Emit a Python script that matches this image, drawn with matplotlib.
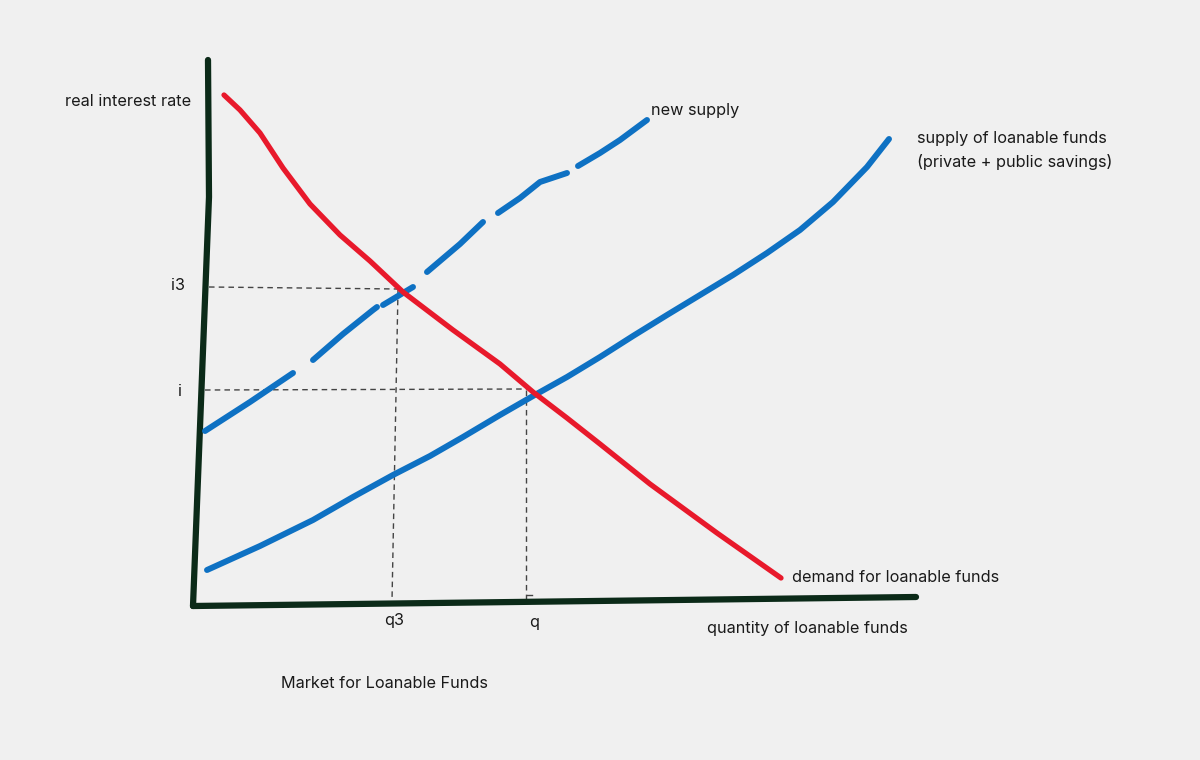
import numpy as np
import matplotlib
matplotlib.use("Agg")
import matplotlib.pyplot as plt

plt.rcParams["font.family"] = ["Inter", "DejaVu Sans"]

# Hand-drawn sketch, traced in drawing units (x right, y down)
axis_y_x = [208, 209, 193]
axis_y_y = [60, 197, 606]
axis_x_x = [193, 916]
axis_x_y = [606, 597]

demand_x = [224, 240, 260, 283, 310, 340, 370, 403, 453, 500, 533, 567,
            600, 650, 717, 781]
demand_y = [95, 110, 133, 168, 204, 235, 261, 292, 330, 364, 392, 418,
            444, 484, 533, 578]

supply_x = [207, 260, 313, 353, 393, 430, 463, 500, 533, 567, 600, 633,
            667, 700, 733, 767, 800, 833, 867, 889]
supply_y = [570, 546, 520, 497, 475, 456, 437, 415, 396, 377, 357, 336,
            315, 295, 275, 253, 230, 202, 167, 139]

# new supply drawn as broken dashes; NaN separates the pieces
new_x = [205, 250, 293, np.nan, 313, 343, 373, 377, np.nan, 383, 413, np.nan,
         427, 460, 483, np.nan, 498, 520, 540, 567, np.nan, 578, 600, 620, 647]
new_y = [431, 402, 373, np.nan, 360, 334, 310, 307, np.nan, 305, 287, np.nan,
         272, 244, 222, np.nan, 213, 198, 182, 173, np.nan, 166, 153, 140, 120]

# guide lines: (x0, y0, x1, y1)
guides = [
    (209, 287, 398, 289),   # i3
    (398, 290, 392, 601),   # q3
    (205, 390, 527, 389),   # i
    (526, 390, 526, 600),   # q
]

labels = [
    ("real interest rate", 65, 102),
    ("i3", 171, 286),
    ("i", 178, 392),
    ("q3", 384, 620),
    ("q", 529, 622),
    ("new supply", 651, 111),
    ("supply of loanable funds", 917, 139),
    ("(private + public savings)", 917, 162),
    ("demand for loanable funds", 792, 577),
    ("quantity of loanable funds", 707, 629),
    ("Market for Loanable Funds", 281, 684),
]

BG = "#f0f0f0"
RED = "#e8192b"
BLUE = "#0e71c3"
DARK = "#0b2a18"

fig = plt.figure(figsize=(12, 7.6), dpi=100, facecolor=BG)
ax = fig.add_axes([0, 0, 1, 1])
ax.set_facecolor(BG)
ax.set_xlim(0, 1200)
ax.set_ylim(760, 0)
ax.axis("off")

for x0, y0, x1, y1 in guides:
    ax.plot([x0, x1], [y0, y1], color="#444444", lw=1.0, ls=(0, (4, 3)))
ax.plot([527, 532], [595, 595], color="#444444", lw=1.0)

ax.plot(axis_y_x, axis_y_y, color=DARK, lw=4.5, solid_capstyle="round", solid_joinstyle="round")
ax.plot(axis_x_x, axis_x_y, color=DARK, lw=4.5, solid_capstyle="round")

ax.plot(supply_x, supply_y, color=BLUE, lw=4.3, solid_capstyle="round", solid_joinstyle="round")
ax.plot(new_x, new_y, color=BLUE, lw=4.3, solid_capstyle="round", solid_joinstyle="round")
ax.plot(demand_x, demand_y, color=RED, lw=3.8, solid_capstyle="round", solid_joinstyle="round")

for txt, x, y in labels:
    ax.text(x, y, txt, fontsize=11.7, color="#1a1a1a", ha="left", va="center")

fig.savefig("out.png", dpi=100, facecolor=BG)
